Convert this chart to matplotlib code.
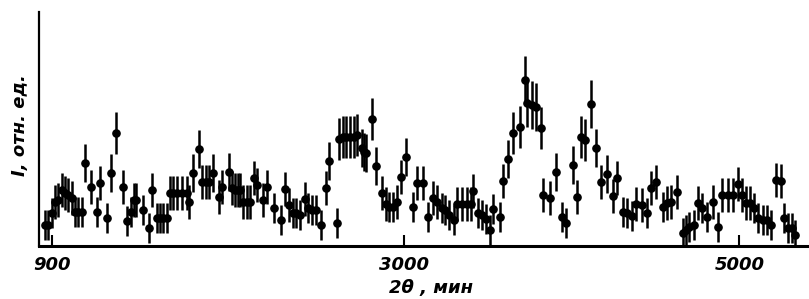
import matplotlib
matplotlib.use("Agg")
import matplotlib.pyplot as plt

# 2θ (min) positions of the measured points
two_theta = [856, 873, 897, 915, 933, 957, 975, 993, 1017, 1035,
             1053, 1076, 1094, 1130, 1166, 1184, 1226, 1250, 1279, 1321,
             1345, 1369, 1387, 1399, 1441, 1476, 1494, 1524, 1542, 1560,
             1584, 1602, 1620, 1644, 1673, 1703, 1715, 1739, 1775, 1793,
             1817, 1835, 1858, 1894, 1912, 1954, 1972, 1990, 2008, 2020,
             2038, 2061, 2079, 2103, 2121, 2157, 2181,
             2223, 2264, 2288, 2312, 2336, 2354, 2378, 2408, 2426, 2449,
             2473, 2503, 2533, 2551, 2599, 2611, 2634, 2652, 2676, 2700,
             2718, 2748, 2760, 2772, 2808, 2831, 2867, 2891, 2909, 2933,
             2957, 2981, 3011, 3052, 3076, 3112, 3142, 3172, 3196, 3225,
             3243, 3267, 3297, 3315, 3345, 3375, 3399, 3410, 3440, 3464,
             3488, 3512, 3530, 3572, 3590, 3619, 3649, 3691, 3721, 3733,
             3763, 3787,
             3816, 3828, 3870, 3906, 3942, 3966, 4007, 4031, 4055, 4079,
             4115, 4145, 4175, 4210, 4246, 4270, 4306, 4330, 4360, 4383,
             4419, 4449, 4473, 4503, 4545, 4569, 4592, 4628, 4664, 4682,
             4700, 4730, 4754, 4777, 4807, 4843, 4873, 4897, 4933, 4962,
             4992, 5016, 5040, 5064, 5088, 5112, 5142, 5165, 5189, 5219,
             5249, 5267, 5291, 5315, 5333]

# intensity, relative units
intensity = [21, 21, 33, 44, 46, 56, 53, 51, 48, 34,
             34, 34, 83, 59, 34, 63, 28, 73, 113, 59,
             25, 34, 46, 46, 36, 18, 56, 28, 28, 28,
             28, 53, 53, 53, 53, 53, 44, 73, 97, 64,
             64, 64, 73, 49, 59, 74, 58, 56, 56, 56,
             44, 44, 44, 68, 61, 46, 59,
             38, 26, 57, 41, 33, 33, 31, 47, 38, 36,
             36, 21, 58, 85, 23, 107, 109, 109, 109, 109,
             111, 98, 94, 93, 127, 80, 53, 42, 39, 39,
             44, 69, 89, 39, 63, 63, 29, 48, 44, 38,
             36, 31, 26, 42, 42, 42, 42, 55, 33, 31,
             27, 16, 37, 29, 65, 87, 113, 119, 166, 143,
             141, 139,
             118, 51, 48, 74, 29, 23, 81, 49, 109, 106,
             142, 98, 64, 72, 50, 68, 34, 33, 30, 42,
             41, 33, 58, 64, 39, 43, 44, 54, 13, 16,
             19, 21, 43, 38, 29, 44, 19, 51, 51, 51,
             62, 51, 43, 43, 38, 28, 26, 26, 21, 66,
             65, 28, 18, 18, 11]

# error bar half-lengths
errors = [15, 15, 15, 17, 17, 17, 17, 17, 17, 15,
          15, 15, 19, 17, 15, 17, 15, 19, 21, 17,
          15, 15, 17, 17, 15, 15, 17, 15, 15, 15,
          15, 17, 17, 17, 17, 17, 17, 19, 19, 17,
          17, 17, 19, 17, 17, 19, 17, 17, 17, 17,
          17, 17, 17, 17, 17, 17, 17,
          15, 15, 17, 17, 15, 15, 15, 17, 15, 15,
          15, 15, 17, 19, 15, 21, 21, 21, 21, 21,
          21, 19, 19, 19, 21, 19, 17, 17, 15, 15,
          17, 17, 19, 15, 17, 17, 15, 17, 17, 15,
          15, 15, 15, 17, 17, 17, 17, 17, 15, 15,
          15, 15, 15, 15, 17, 19, 21, 21, 24, 24,
          24, 24,
          21, 17, 17, 19, 15, 15, 19, 17, 21, 21,
          24, 19, 17, 19, 17, 17, 15, 15, 15, 17,
          17, 15, 17, 17, 15, 17, 17, 17, 15, 15,
          15, 15, 17, 15, 15, 17, 15, 17, 17, 17,
          17, 17, 17, 17, 15, 15, 15, 15, 15, 17,
          17, 15, 15, 15, 15]

tick_values = [900, 3000, 5000]
tick_labels = ["900", "3000", "5000"]

fig = plt.figure(figsize=(8.09, 2.99), dpi=100)
ax = fig.add_axes([39 / 809, 53 / 299, 1 - 39 / 809, 234 / 299])

ax.errorbar(two_theta, intensity, yerr=errors, fmt="o", color="black",
            markersize=5.2, elinewidth=1.8, capsize=0, zorder=3)

ax.set_xlim(820, 5416)
ax.set_ylim(0, 234)

for s in ["top", "right"]:
    ax.spines[s].set_visible(False)
ax.spines["left"].set_linewidth(1.6)
ax.spines["bottom"].set_linewidth(2.2)
ax.spines["bottom"].set_zorder(5)

ax.set_yticks([])
ax.set_xticks(tick_values)
ax.set_xticklabels(tick_labels)
ax.tick_params(axis="x", direction="in", length=8, width=1.5, pad=7,
               labelsize=13)
for lbl in ax.get_xticklabels():
    lbl.set_fontweight("bold")
    lbl.set_fontstyle("italic")

fig.text(431 / 809, 1 - 288 / 299, "2θ , мин", ha="center", va="center",
         fontsize=13, fontweight="bold", fontstyle="italic")
fig.text(20 / 809, 1 - 125 / 299, "I, отн. ед.", ha="center", va="center",
         rotation=90, fontsize=13, fontweight="bold", fontstyle="italic")

fig.savefig("out.png", dpi=100)
